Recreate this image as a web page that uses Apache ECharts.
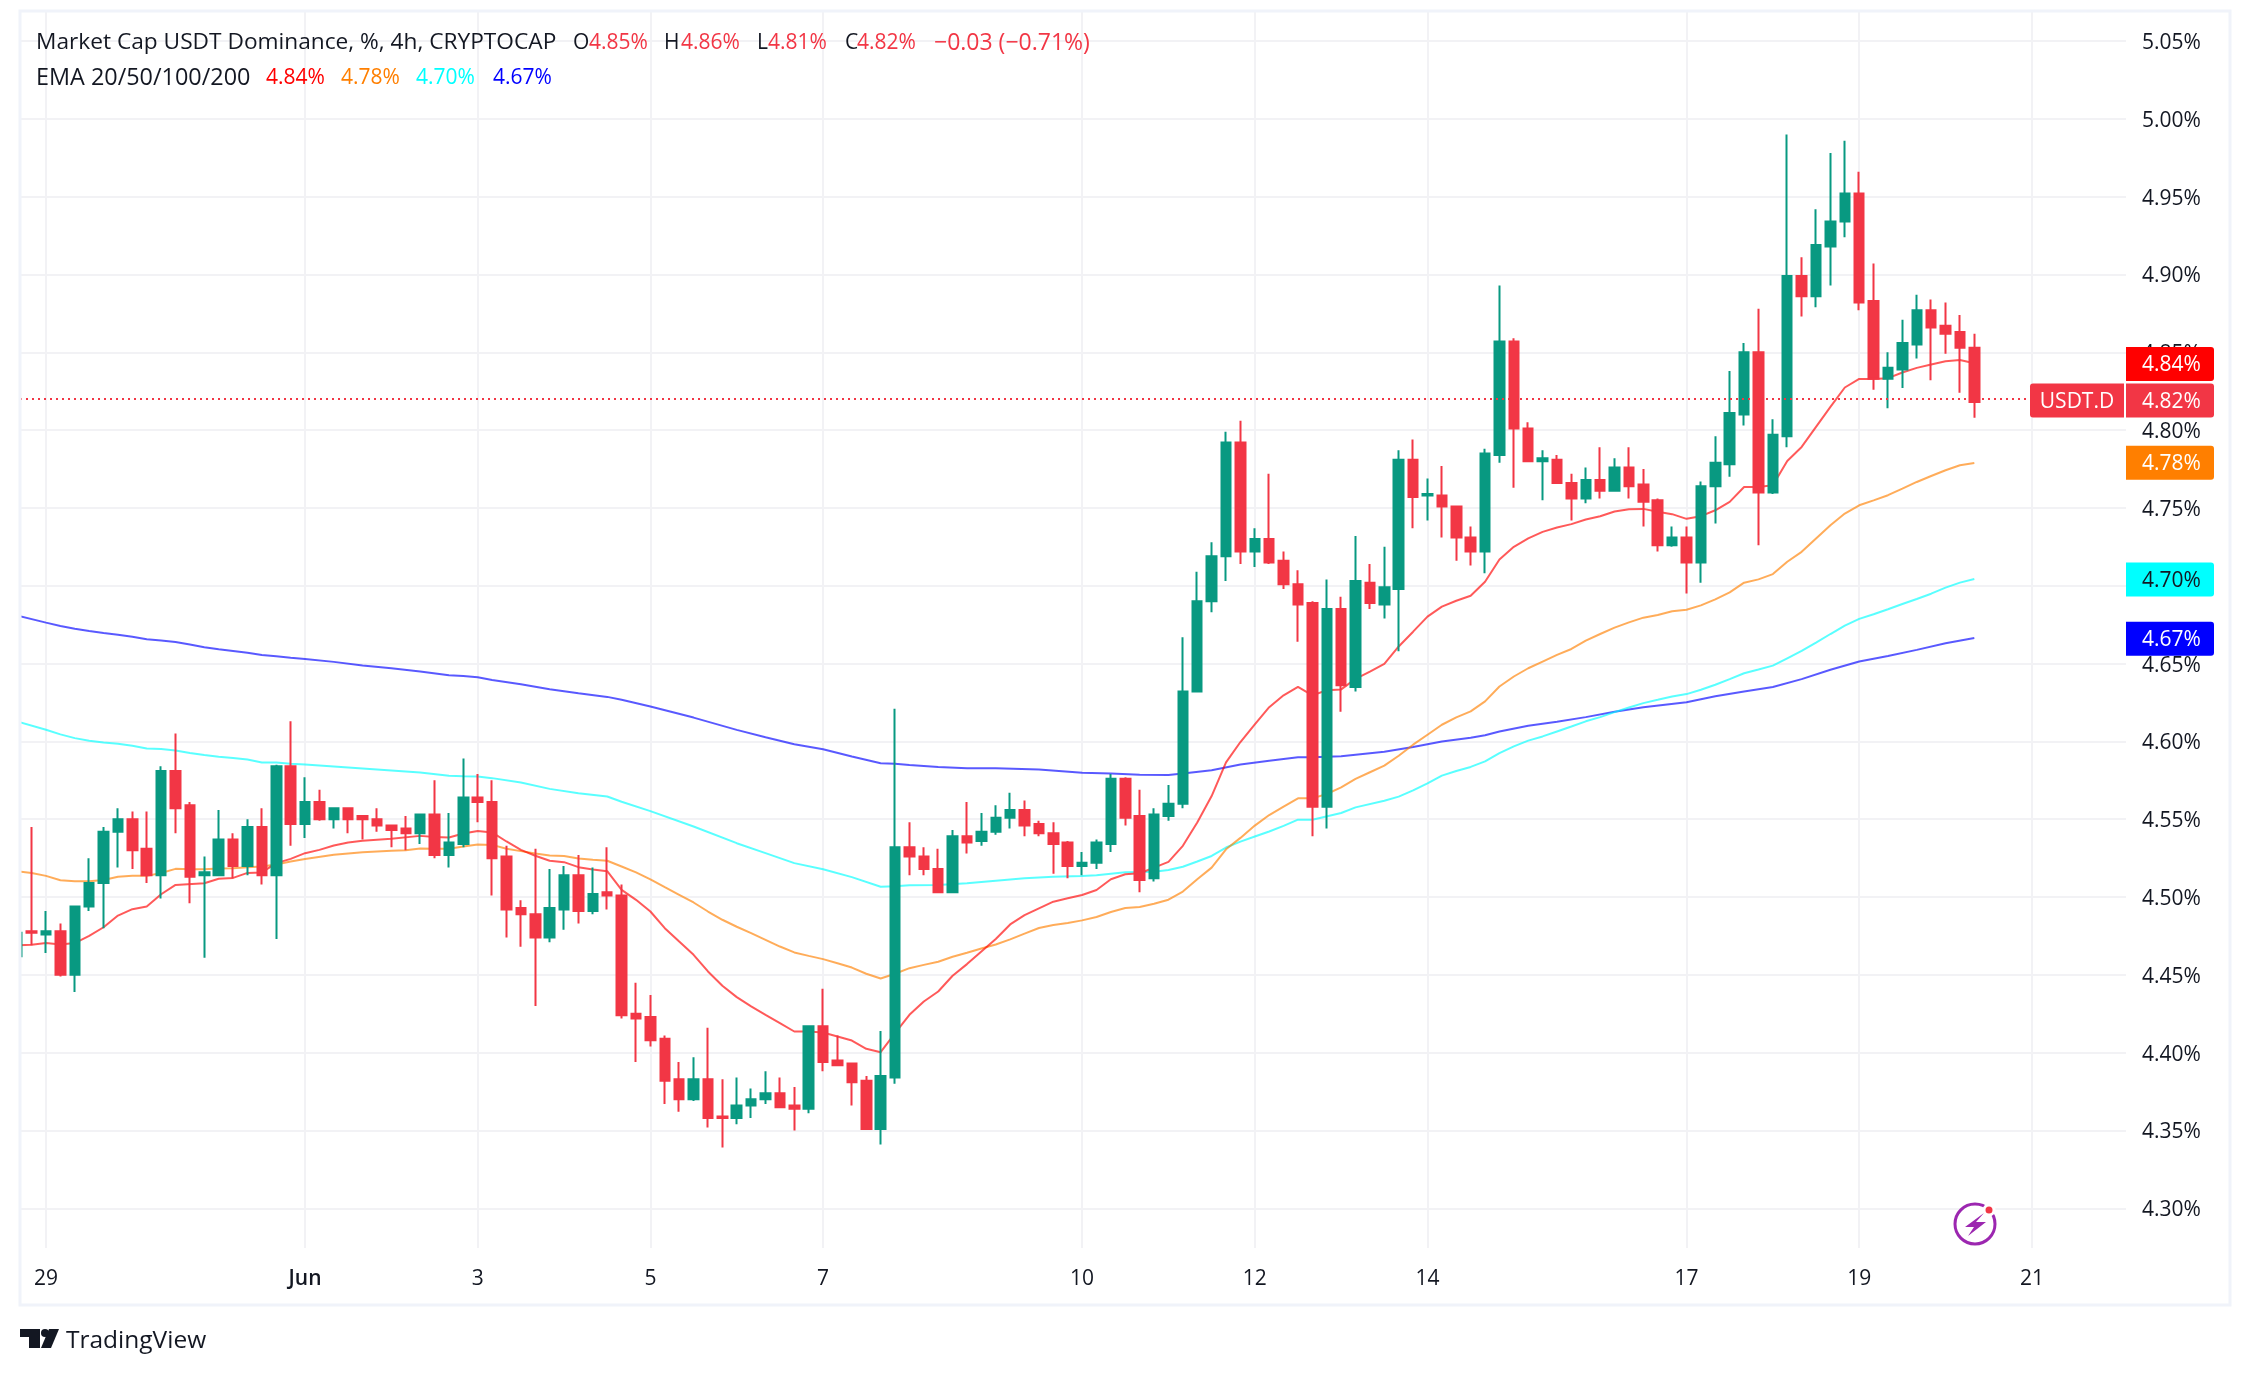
<!DOCTYPE html>
<html>
<head>
<meta charset="utf-8">
<title>USDT.D</title>
<style>
html,body{margin:0;padding:0;background:#fff;}
#main{width:2250px;height:1375px;}
</style>
<script src="https://cdn.jsdelivr.net/npm/echarts@6/dist/echarts.min.js"></script>
</head>
<body>
<div id="main"></div>
<script>
// 4h candles, index 0 = 28 May 16:00
var opens = [
4.462,4.478,4.476,4.478,4.450,4.494,4.509,4.542,4.550,4.531,
4.514,4.581,4.559,4.514,4.514,4.537,4.520,4.545,4.514,4.584,
4.547,4.561,4.550,4.557,4.552,4.550,4.546,4.544,4.541,4.553,
4.527,4.534,4.564,4.561,4.526,4.493,4.489,4.474,4.492,4.514,
4.491,4.503,4.501,4.425,4.423,4.409,4.383,4.370,4.383,4.359,
4.358,4.366,4.370,4.374,4.366,4.364,4.417,4.395,4.393,4.382,
4.351,4.384,4.532,4.526,4.518,4.503,4.539,4.536,4.542,4.551,
4.556,4.547,4.541,4.535,4.520,4.522,4.534,4.576,4.552,4.512,
4.552,4.560,4.632,4.690,4.719,4.792,4.722,4.730,4.716,4.701,
4.689,4.558,4.685,4.635,4.702,4.688,4.698,4.781,4.758,4.758,
4.751,4.731,4.722,4.784,4.857,4.801,4.780,4.781,4.766,4.756,
4.768,4.761,4.776,4.765,4.755,4.726,4.731,4.715,4.764,4.778,
4.810,4.850,4.760,4.796,4.899,4.886,4.918,4.934,4.952,4.883,
4.833,4.839,4.855,4.877,4.867,4.863,4.853];
var closes = [
4.477,4.477,4.478,4.450,4.494,4.509,4.542,4.550,4.530,4.514,
4.581,4.557,4.513,4.516,4.537,4.520,4.545,4.514,4.584,4.547,
4.561,4.550,4.557,4.550,4.550,4.546,4.543,4.541,4.553,4.527,
4.535,4.564,4.561,4.525,4.492,4.489,4.474,4.493,4.514,4.491,
4.502,4.501,4.424,4.422,4.408,4.382,4.370,4.383,4.358,4.358,
4.366,4.370,4.374,4.365,4.364,4.417,4.394,4.392,4.381,4.351,
4.385,4.532,4.526,4.518,4.503,4.539,4.535,4.542,4.551,4.556,
4.546,4.541,4.534,4.520,4.522,4.535,4.576,4.551,4.511,4.553,
4.560,4.632,4.690,4.719,4.792,4.722,4.730,4.715,4.701,4.688,
4.558,4.685,4.636,4.703,4.689,4.699,4.781,4.757,4.759,4.751,
4.731,4.722,4.785,4.857,4.801,4.780,4.782,4.766,4.756,4.768,
4.761,4.776,4.764,4.754,4.726,4.731,4.715,4.764,4.779,4.811,
4.850,4.760,4.797,4.899,4.886,4.919,4.934,4.952,4.882,4.833,
4.840,4.856,4.877,4.866,4.862,4.853,4.818];
var lows = [
4.462,4.469,4.464,4.449,4.439,4.491,4.480,4.519,4.518,4.509,
4.499,4.541,4.496,4.461,4.514,4.512,4.514,4.508,4.473,4.533,
4.538,4.549,4.544,4.541,4.537,4.542,4.532,4.530,4.534,4.525,
4.519,4.532,4.548,4.501,4.474,4.468,4.430,4.471,4.479,4.483,
4.489,4.492,4.422,4.394,4.404,4.367,4.362,4.369,4.352,4.339,
4.354,4.358,4.367,4.365,4.350,4.361,4.388,4.392,4.366,4.351,
4.341,4.380,4.514,4.514,4.503,4.503,4.528,4.533,4.540,4.544,
4.539,4.539,4.515,4.512,4.514,4.518,4.529,4.546,4.503,4.510,
4.549,4.557,4.632,4.683,4.703,4.714,4.712,4.714,4.698,4.664,
4.539,4.544,4.619,4.632,4.685,4.679,4.658,4.737,4.742,4.731,
4.716,4.713,4.708,4.779,4.763,4.780,4.755,4.766,4.742,4.753,
4.756,4.761,4.756,4.738,4.722,4.725,4.695,4.702,4.740,4.770,
4.803,4.726,4.759,4.789,4.873,4.879,4.893,4.924,4.877,4.826,
4.814,4.827,4.846,4.832,4.849,4.824,4.808];
var highs = [
4.477,4.545,4.491,4.483,4.494,4.525,4.545,4.557,4.555,4.555,
4.584,4.605,4.561,4.526,4.556,4.541,4.550,4.557,4.585,4.613,
4.577,4.569,4.557,4.557,4.552,4.557,4.546,4.552,4.553,4.575,
4.554,4.589,4.579,4.575,4.533,4.498,4.531,4.518,4.520,4.527,
4.519,4.532,4.508,4.445,4.437,4.411,4.394,4.397,4.416,4.383,
4.384,4.377,4.388,4.384,4.378,4.417,4.441,4.411,4.393,4.385,
4.414,4.621,4.548,4.532,4.531,4.543,4.561,4.554,4.559,4.567,
4.562,4.549,4.548,4.536,4.529,4.537,4.579,4.577,4.569,4.557,
4.572,4.667,4.709,4.728,4.799,4.806,4.737,4.772,4.722,4.710,
4.690,4.704,4.693,4.732,4.714,4.725,4.787,4.794,4.769,4.777,
4.751,4.738,4.788,4.893,4.859,4.805,4.787,4.784,4.772,4.776,
4.789,4.782,4.789,4.775,4.756,4.738,4.738,4.767,4.796,4.838,
4.856,4.878,4.807,4.990,4.911,4.942,4.978,4.986,4.966,4.907,
4.850,4.871,4.887,4.884,4.882,4.874,4.862];

// EMA lines as [candle index, value]
var ema20 = [[0,4.469],[1,4.4693],[2,4.4704],[3,4.4695],[4,4.4704],[5,4.475],[6,4.4806],[7,4.4881],[8,4.4922],[9,4.4939],
[10,4.5018],[11,4.5078],[13,4.5089],[14,4.5117],[15,4.5123],[16,4.5155],[17,4.5158],[18,4.5218],[19,4.5245],[20,4.5282],
[21,4.5303],[22,4.5331],[23,4.535],[24,4.5361],[26,4.5374],[28,4.5393],[29,4.5385],[30,4.5382],[31,4.5408],[32,4.5425],
[33,4.5415],[34,4.5357],[35,4.5303],[36,4.5265],[37,4.5233],[38,4.5224],[39,4.5192],[40,4.5177],[41,4.5166],[42,4.5046],
[43,4.4982],[44,4.4907],[45,4.48],[46,4.4714],[47,4.4629],[48,4.4522],[49,4.443],[50,4.4357],[51,4.4297],[52,4.4243],
[53,4.419],[54,4.4136],[55,4.4136],[56,4.413],[57,4.4104],[58,4.4078],[59,4.4025],[60,4.4003],[61,4.4125],[62,4.4243],
[63,4.4329],[64,4.4393],[65,4.4494],[66,4.4569],[67,4.465],[68,4.473],[69,4.4824],[70,4.4884],[71,4.4927],[72,4.497],
[73,4.4992],[74,4.5013],[75,4.5045],[76,4.5114],[77,4.5146],[78,4.5153],[79,4.5189],[80,4.5226],[81,4.5329],[82,4.5479],
[83,4.5649],[84,4.5865],[85,4.5996],[86,4.611],[87,4.622],[88,4.6296],[89,4.6351],[90,4.6296],[91,4.6329],[92,4.6334],
[93,4.6402],[94,4.6448],[95,4.6498],[96,4.661],[97,4.6705],[98,4.6802],[99,4.6866],[100,4.6904],[101,4.6936],[102,4.7026],
[103,4.7169],[104,4.725],[105,4.7304],[106,4.7346],[107,4.7374],[108,4.7396],[109,4.7426],[110,4.7447],[111,4.7477],[112,4.7492],
[113,4.7494],[114,4.7475],[115,4.746],[116,4.743],[117,4.7447],[118,4.7485],[119,4.7539],[120,4.7635],[121,4.7635],[122,4.7646],
[123,4.7802],[124,4.7892],[125,4.8021],[126,4.8149],[127,4.8274],[128,4.8329],[129,4.8329],[130,4.8334],[131,4.837],[132,4.84],
[133,4.8422],[134,4.8443],[135,4.845],[136,4.843]];
var ema50 = [[0,4.5165],[1,4.5155],[2,4.5136],[3,4.5108],[4,4.5102],[5,4.5102],[6,4.511],[7,4.513],[8,4.5136],[9,4.5136],
[10,4.5155],[11,4.5181],[12,4.5179],[13,4.5179],[14,4.5183],[15,4.5185],[16,4.5192],[17,4.5196],[18,4.5209],[19,4.5228],
[20,4.5245],[22,4.5271],[24,4.5288],[26,4.5297],[27,4.5301],[28,4.5312],[29,4.531],[30,4.531],[31,4.5325],[32,4.5337],
[33,4.5335],[34,4.531],[35,4.5295],[36,4.528],[37,4.5267],[38,4.5263],[39,4.5248],[40,4.5239],[41,4.5233],[42,4.5196],
[43,4.5158],[44,4.5113],[45,4.5063],[46,4.5014],[47,4.4965],[48,4.4907],[49,4.4854],[50,4.4809],[51,4.4768],[52,4.4725],
[53,4.4682],[54,4.4644],[55,4.4622],[56,4.4601],[57,4.4575],[58,4.4547],[59,4.4507],[60,4.4477],[61,4.4507],[62,4.4543],
[63,4.4564],[64,4.4584],[65,4.4616],[66,4.4642],[67,4.4669],[68,4.4695],[69,4.4728],[70,4.4765],[71,4.4801],[72,4.482],
[73,4.4833],[74,4.485],[75,4.4872],[76,4.4904],[77,4.493],[78,4.4936],[79,4.4957],[80,4.4983],[81,4.5035],[82,4.5114],
[83,4.5189],[84,4.5307],[85,4.538],[86,4.5459],[87,4.5527],[88,4.5581],[89,4.5634],[90,4.5634],[91,4.5662],[92,4.5705],
[93,4.5759],[94,4.5802],[95,4.5844],[96,4.5908],[97,4.5979],[98,4.6043],[99,4.6107],[100,4.6154],[101,4.6193],[102,4.6257],
[103,4.6353],[104,4.6417],[105,4.647],[106,4.6513],[107,4.6556],[108,4.6594],[109,4.6648],[110,4.669],[111,4.6731],[112,4.6765],
[113,4.6795],[114,4.6812],[115,4.6836],[116,4.6846],[117,4.6874],[118,4.6913],[119,4.6958],[120,4.702],[121,4.7041],[122,4.7075],
[123,4.7154],[124,4.7218],[125,4.7304],[126,4.7389],[127,4.7464],[128,4.7517],[129,4.7549],[130,4.7582],[131,4.7624],[132,4.7667],
[133,4.7705],[134,4.7742],[135,4.7774],[136,4.7789]];
var ema100 = [[0,4.6128],[2,4.6075],[3,4.6045],[4,4.6021],[5,4.6004],[6,4.5993],[7,4.5985],[8,4.5972],[9,4.5955],[10,4.5951],
[11,4.5942],[12,4.5925],[13,4.5912],[14,4.5902],[15,4.5893],[16,4.5884],[17,4.5864],[18,4.5864],[19,4.5856],[20,4.5851],
[22,4.5839],[24,4.5826],[26,4.5813],[28,4.58],[30,4.5779],[31,4.5776],[32,4.5774],[33,4.5764],[35,4.5736],[37,4.5695],
[39,4.5667],[41,4.5646],[42,4.5612],[44,4.5552],[47,4.5453],[50,4.5346],[52,4.5282],[54,4.5218],[56,4.5179],[58,4.5128],
[60,4.5066],[61,4.507],[62,4.5076],[64,4.5078],[66,4.5089],[68,4.5105],[70,4.512],[72,4.5131],[74,4.5135],[75,4.514],
[77,4.5159],[79,4.5163],[80,4.5174],[81,4.5195],[82,4.5228],[83,4.5264],[84,4.5318],[85,4.5356],[86,4.5389],[87,4.5421],
[88,4.5457],[89,4.5497],[90,4.5497],[92,4.554],[93,4.5576],[95,4.5619],[96,4.5645],[97,4.5685],[98,4.573],[99,4.578],
[100,4.581],[101,4.5836],[102,4.5872],[103,4.5925],[104,4.5968],[105,4.6005],[106,4.6032],[107,4.6064],[108,4.6096],[109,4.6129],
[110,4.6156],[111,4.6188],[112,4.6218],[113,4.6246],[114,4.6267],[115,4.6289],[116,4.6304],[117,4.6332],[118,4.6364],[119,4.64],
[120,4.6438],[121,4.6462],[122,4.6487],[123,4.6534],[124,4.6581],[125,4.6635],[126,4.669],[127,4.6744],[128,4.6787],[129,4.6817],
[130,4.6849],[131,4.6883],[132,4.6915],[133,4.6949],[134,4.6988],[135,4.702],[136,4.7043]];
var ema200 = [[0,4.6808],[2,4.6763],[3,4.6741],[4,4.6724],[5,4.6709],[6,4.6696],[7,4.6686],[8,4.6673],[9,4.6656],[10,4.6649],
[11,4.6639],[12,4.6622],[13,4.6605],[14,4.6592],[15,4.6581],[16,4.657],[17,4.6555],[18,4.6547],[19,4.6538],[20,4.653],
[22,4.6511],[24,4.6487],[26,4.647],[28,4.6449],[30,4.6425],[31,4.6421],[32,4.6412],[33,4.6395],[35,4.6367],[37,4.6335],
[39,4.631],[41,4.6286],[42,4.6267],[44,4.6224],[47,4.6153],[50,4.6074],[52,4.6027],[54,4.5982],[56,4.595],[58,4.5903],
[60,4.586],[61,4.5856],[62,4.5849],[64,4.5836],[66,4.5828],[68,4.5827],[71,4.5819],[74,4.5799],[76,4.5794],[78,4.5786],
[80,4.5784],[81,4.5794],[83,4.5814],[85,4.5852],[87,4.5875],[89,4.5898],[90,4.5898],[92,4.5905],[95,4.5934],[97,4.5964],
[99,4.6],[101,4.6024],[102,4.6039],[103,4.6064],[105,4.6101],[107,4.6126],[109,4.6156],[111,4.619],[113,4.622],[116,4.6252],
[118,4.629],[120,4.6321],[122,4.6349],[124,4.64],[126,4.646],[128,4.6513],[130,4.6549],[132,4.6588],[134,4.6631],[136,4.6665]];

var dateTickIdx = [2,20,32,44,56,74,86,98,116,128,140];
var dateTickLabels = ['29','Jun','3','5','7','10','12','14','17','19','21'];
var priceTicks = [4.30,4.35,4.40,4.45,4.50,4.55,4.60,4.65,4.70,4.75,4.80,4.85,4.90,4.95,5.00,5.05];

var lastPrice = 4.819;
var emaLast = [4.8425,4.779,4.704,4.666];
var emaLastLabels = ['4.84%','4.78%','4.70%','4.67%'];
var emaColors = ['#FF0000','#FF7F00','#00FFFF','#0000FF'];

var UP = '#089981', DOWN = '#F23645', TEXT = '#131722', GRID = '#F2F2F5', FRAME = '#F0F3FA';
var FONT = '"Open Sans", sans-serif';

var myChart = echarts.init(document.getElementById('main'), null, {renderer: 'canvas'});

function emaSeries(name, data, color) {
    return {
        name: name, type: 'line', data: data, showSymbol: false, symbol: 'none',
        z: 1, silent: true,
        lineStyle: {color: color, width: 2, opacity: 0.65}
    };
}

var candleData = [];
for (var i = 0; i < opens.length; i++) {
    candleData.push([i, opens[i], closes[i], lows[i], highs[i]]);
}

var option = {
    animation: false,
    backgroundColor: '#fff',
    textStyle: {fontFamily: FONT},
    grid: {left: 20, top: 11, width: 2106, height: 1237, containLabel: false},
    xAxis: {
        type: 'value', min: 0.193, max: 146.54,
        axisLine: {show: false},
        axisTick: {show: false, customValues: dateTickIdx},
        splitLine: {show: true, lineStyle: {color: GRID, width: 2}},
        axisLabel: {
            customValues: dateTickIdx, margin: 21, color: TEXT, fontSize: 21, fontFamily: FONT,
            hideOverlap: false, showMinLabel: true, showMaxLabel: true,
            formatter: function (v) {
                var s = dateTickLabels[dateTickIdx.indexOf(v)];
                return s === 'Jun' ? '{b|Jun}' : s;
            },
            rich: {b: {fontWeight: 600, fontSize: 21, color: TEXT, fontFamily: FONT}}
        }
    },
    yAxis: {
        type: 'value', position: 'right', min: 4.2745, max: 5.0693, scale: true,
        axisLine: {show: false},
        axisTick: {show: false, customValues: priceTicks},
        splitLine: {show: true, lineStyle: {color: GRID, width: 2}},
        axisLabel: {
            customValues: priceTicks, margin: 16, color: TEXT, fontSize: 21, fontFamily: FONT,
            formatter: function (v) { return '{p|' + v.toFixed(2) + '%}'; },
            // the scale labels sit a little under their grid line
            rich: {p: {color: TEXT, fontSize: 21, fontFamily: FONT, padding: [4, 0, 0, 0]}}
        }
    },
    series: [
        emaSeries('EMA 200', ema200, emaColors[3]),
        emaSeries('EMA 100', ema100, emaColors[2]),
        emaSeries('EMA 50', ema50, emaColors[1]),
        emaSeries('EMA 20', ema20, emaColors[0]),
        {
            name: 'USDT.D', type: 'candlestick', data: candleData, z: 3, barWidth: 10,
            encode: {x: 0, y: [1, 2, 3, 4]},
            itemStyle: {color: UP, color0: DOWN, borderColor: UP, borderColor0: DOWN, borderWidth: 2},
            markLine: {
                silent: true, symbol: 'none', animation: false, z: 5,
                label: {show: false},
                lineStyle: {color: DOWN, width: 2, type: [2, 4], opacity: 1},
                data: [{yAxis: lastPrice}]
            }
        }
    ]
};
myChart.setOption(option);

/** header text pieces: [x, y, text, color, font size] */
function headerText() {
    var rows = [
        [36, 43, 'Market Cap USDT Dominance, %, 4h, CRYPTOCAP', TEXT, 22.7],
        [573, 43, 'O', TEXT, 21], [589, 43, '4.85%', DOWN, 21],
        [664, 43, 'H', TEXT, 21], [681, 43, '4.86%', DOWN, 21],
        [757, 43, 'L', TEXT, 21], [768, 43, '4.81%', DOWN, 21],
        [845, 43, 'C', TEXT, 21], [857, 43, '4.82%', DOWN, 21],
        [934, 43, '\u22120.03 (\u22120.71%)', DOWN, 23],
        [36, 78, 'EMA 20/50/100/200', TEXT, 23.4],
        [266, 78, emaLastLabels[0], emaColors[0], 21],
        [341, 78, emaLastLabels[1], emaColors[1], 21],
        [416, 78, emaLastLabels[2], emaColors[2], 21],
        [493, 78, emaLastLabels[3], emaColors[3], 21]
    ];
    return rows.map(function (r) {
        return {type: 'text', x: r[0], y: r[1], z: 20,
            style: {text: r[2], fill: r[3], font: r[4] + 'px ' + FONT, textVerticalAlign: 'middle'}};
    });
}

/** one price tag on the right scale */
function priceTag(value, label, bg, fg) {
    var y = myChart.convertToPixel({yAxisIndex: 0}, value);
    return [
        {type: 'rect', z: 30, shape: {x: 2126, y: y - 17, width: 88, height: 34, r: [0, 3, 3, 0]}, style: {fill: bg}},
        {type: 'text', z: 31, x: 2142, y: y + 1, style: {text: label, fill: fg, font: '21px ' + FONT, textVerticalAlign: 'middle'}}
    ];
}

/** outer frame, tags, lightning badge and logo */
function initGraphic() {
    // the first candle is cut by the left edge of the pane
    var g = [{type: 'rect', z: 9, shape: {x: 0, y: 0, width: 20, height: 1375}, style: {fill: '#fff'}},
        {type: 'rect', z: 10, shape: {x: 20, y: 11, width: 2210, height: 1294},
        style: {fill: 'none', stroke: FRAME, lineWidth: 3}}];
    g = g.concat(headerText());
    g = g.concat(priceTag(emaLast[0], emaLastLabels[0], emaColors[0], '#fff'));
    g = g.concat(priceTag(emaLast[1], emaLastLabels[1], emaColors[1], '#fff'));
    g = g.concat(priceTag(emaLast[2], emaLastLabels[2], emaColors[2], TEXT));
    g = g.concat(priceTag(emaLast[3], emaLastLabels[3], emaColors[3], '#fff'));
    g = g.concat(priceTag(lastPrice, '4.82%', DOWN, '#fff'));

    var yLast = myChart.convertToPixel({yAxisIndex: 0}, lastPrice);
    g.push({type: 'rect', z: 30, shape: {x: 2030, y: yLast - 17, width: 94, height: 34, r: [3, 0, 0, 3]}, style: {fill: DOWN}});
    g.push({type: 'text', z: 31, x: 2077, y: yLast + 1, style: {text: 'USDT.D', fill: '#fff', font: '21px ' + FONT, textAlign: 'center', textVerticalAlign: 'middle'}});

    // lightning badge
    g.push({type: 'circle', z: 30, shape: {cx: 1975, cy: 1224, r: 20}, style: {fill: '#fff', stroke: '#9C27B0', lineWidth: 3}});
    g.push({type: 'polygon', z: 31, shape: {points: [[1984, 1213], [1965, 1227], [1974, 1227], [1968, 1236], [1986, 1222], [1976, 1222]]}, style: {fill: '#9C27B0'}});
    g.push({type: 'circle', z: 32, shape: {cx: 1989, cy: 1210, r: 5}, style: {fill: DOWN, stroke: '#fff', lineWidth: 3}});

    // TradingView mark
    g.push({type: 'polygon', z: 30, shape: {points: [[20, 1329], [40, 1329], [40, 1348], [29, 1348], [29, 1337], [20, 1337]]}, style: {fill: TEXT}});
    g.push({type: 'circle', z: 30, shape: {cx: 45, cy: 1333, r: 4}, style: {fill: TEXT}});
    g.push({type: 'polygon', z: 30, shape: {points: [[49, 1329], [59, 1329], [51, 1348], [41, 1348]]}, style: {fill: TEXT}});
    g.push({type: 'text', z: 30, x: 66, y: 1341, style: {text: 'TradingView', fill: TEXT, font: '24.5px ' + FONT, textVerticalAlign: 'middle'}});

    myChart.setOption({graphic: g});
}
initGraphic();
</script>
</body>
</html>
